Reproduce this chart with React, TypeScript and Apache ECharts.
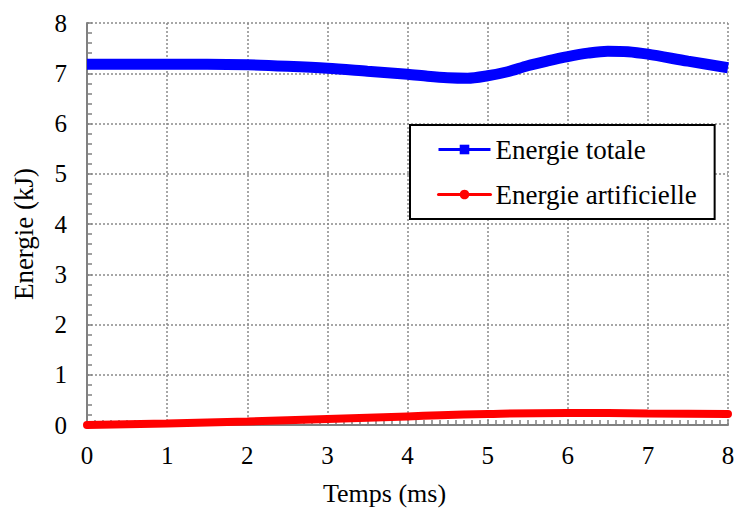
import React, { useEffect, useRef } from "react";
import * as echarts from "echarts";

const totalTimes = [0, 0.5, 1, 1.5, 2, 2.5, 3, 3.5, 4, 4.25, 4.5, 4.75, 5, 5.25, 5.5, 5.75, 6, 6.25, 6.5, 6.75, 7, 7.5, 8];
const totalValues = [7.18, 7.18, 7.18, 7.18, 7.17, 7.14, 7.1, 7.04, 6.98, 6.94, 6.91, 6.9, 6.95, 7.03, 7.15, 7.245, 7.33, 7.4, 7.44, 7.43, 7.38, 7.24, 7.11];
const artTimes = [0, 1, 2, 3, 4, 5, 6, 7, 8];
const artValues = [0, 0.03, 0.07, 0.12, 0.17, 0.22, 0.24, 0.23, 0.22];
const seriesNames = ["Energie totale", "Energie artificielle"];
const xTitle = "Temps (ms)";
const yTitle = "Energie (kJ)";

const FONT = "'Liberation Serif', 'Times New Roman', serif";

export default function App() {
  const ref = useRef<HTMLDivElement>(null);
  useEffect(() => {
    if (!ref.current) return;
    const chart = echarts.init(ref.current, undefined, { renderer: "svg" });
    const axisCommon = {
      type: "value" as const,
      min: 0,
      max: 8,
      interval: 1,
      axisLine: { show: true, onZero: false, lineStyle: { color: "#808080", width: 2 } },
      axisTick: { show: true, inside: true, length: 5, lineStyle: { color: "#808080", width: 1.5 } },
      splitLine: { show: true, lineStyle: { color: "#8a8a8a", width: 1.5, type: [2, 2] } },
      axisLabel: { color: "#000", fontFamily: FONT, fontSize: 25 },
      nameTextStyle: { color: "#000", fontFamily: FONT, fontSize: 26 },
    };
    chart.setOption({
      animation: false,
      grid: { left: 87, right: 10, top: 23, bottom: 89, containLabel: false },
      xAxis: {
        ...axisCommon,
        name: xTitle,
        nameLocation: "middle",
        nameGap: 55,
        nameTextStyle: { ...axisCommon.nameTextStyle, padding: [0, 46, 0, 0] },
        axisLabel: { ...axisCommon.axisLabel, margin: 18 },
        minorTick: { show: true, splitNumber: 10, length: 5, lineStyle: { color: "#808080", width: 1.5 } },
      },
      yAxis: {
        ...axisCommon,
        name: yTitle,
        nameLocation: "middle",
        nameGap: 50,
        nameTextStyle: { ...axisCommon.nameTextStyle, fontSize: 27, padding: [0, 20, 0, 0] },
        axisLabel: { ...axisCommon.axisLabel, margin: 20 },
        minorTick: { show: true, splitNumber: 5, length: 5, lineStyle: { color: "#808080", width: 1.5 } },
      },
      legend: {
        orient: "vertical",
        left: 410,
        top: 125,
        padding: [11, 18, 11, 27],
        itemGap: 18,
        itemWidth: 52,
        itemHeight: 12,
        backgroundColor: "#fff",
        borderColor: "#000",
        borderWidth: 2,
        borderRadius: 0,
        lineStyle: { width: 3 },
        textStyle: { color: "#000", fontFamily: FONT, fontSize: 27 },
        data: seriesNames,
      },
      series: [
        {
          name: seriesNames[0],
          type: "line",
          smooth: 0.3,
          symbol: "rect",
          showSymbol: false,
          color: "#0000FF",
          lineStyle: { color: "#0000FF", width: 11 },
          data: totalTimes.map((t, i) => [t, totalValues[i]]),
          z: 3,
        },
        {
          name: seriesNames[1],
          type: "line",
          smooth: 0.5,
          symbol: "circle",
          showSymbol: false,
          color: "#FF0000",
          lineStyle: { color: "#FF0000", width: 8, cap: "round" },
          data: artTimes.map((t, i) => [t, artValues[i]]),
          z: 3,
        },
      ],
    });
    return () => chart.dispose();
  }, []);
  return (
    <div
      ref={ref}
      style={{ position: "fixed", left: 0, top: 0, width: 738, height: 514, background: "#fff" }}
    />
  );
}
